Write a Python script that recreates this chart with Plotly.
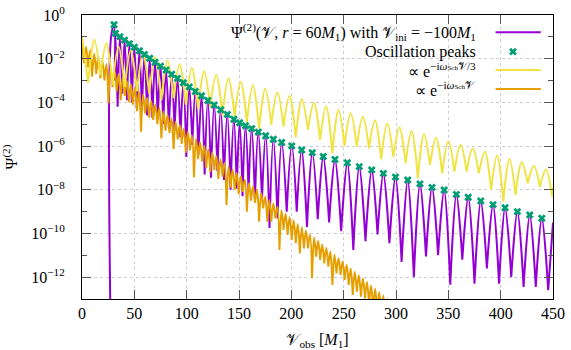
import plotly.graph_objects as go

# ---------------- data (x in M1, values as log10|Psi|) ----------------
# purple: Psi^(2)(V, r=60 M1) -- lobe tops (= oscillation peaks) and the dips between them
purple_rise_x = [27.2, 27.8]
purple_rise_log = [-14.0, -1.0]
purple_peak_x = [30.6, 31.9, 36.2, 40.7, 45.3, 50.0, 54.8, 59.7, 64.7, 69.8, 75.0, 80.3, 85.7,
                 91.2, 96.8, 102.5, 108.3, 114.2, 120.2, 126.3, 132.5, 138.8, 145.1, 150.6,
                 156.2, 162.1, 168.4, 175.5, 182.8, 190.8, 200.4, 209.9, 220.0, 230.5, 241.7,
                 253.5, 264.9, 276.8, 287.9, 299.5, 311.2, 322.9, 334.4, 346.0, 357.7, 369.0,
                 381.0, 392.7, 404.2, 416.0, 427.8, 439.3]
purple_peak_log = [-0.45, -0.84, -0.99, -1.15, -1.31, -1.47, -1.64, -1.81, -1.98, -2.16, -2.34,
                   -2.52, -2.71, -2.90, -3.10, -3.29, -3.50, -3.70, -3.91, -4.12, -4.34, -4.55,
                   -4.77, -4.93, -5.07, -5.20, -5.36, -5.53, -5.69, -5.84, -5.99, -6.18, -6.30,
                   -6.48, -6.61, -6.76, -6.94, -7.09, -7.25, -7.42, -7.55, -7.73, -7.89, -8.01,
                   -8.21, -8.34, -8.51, -8.68, -8.82, -9.00, -9.15, -9.30]
purple_dip_x = [31.25, 34.05, 38.45, 43.0, 47.65, 52.4, 57.25, 62.2, 67.25, 72.4, 77.65, 83.0,
                88.45, 94.0, 99.65, 105.4, 111.25, 117.2, 123.25, 129.4, 135.65, 141.95, 147.85,
                153.4, 159.15, 165.25, 171.95, 179.15, 186.8, 195.6, 205.15, 214.95, 225.25,
                236.1, 247.6, 259.2, 270.85, 282.35, 293.7, 305.35, 317.05, 328.65, 340.2,
                351.85, 363.35, 375.0, 386.85, 398.45, 410.1, 421.9, 433.55, 445.4]
purple_dip_log = [-3.0, -4.2, -3.6, -3.9, -4.0, -4.3, -4.4, -4.6, -4.7, -4.75, -5.0, -5.2, -5.3,
                  -5.6, -6.5, -5.95, -6.4, -7.3, -7.45, -7.15, -7.55, -8.0, -7.95, -8.3, -8.1,
                  -8.5, -8.45, -9.75, -9.3, -9.0, -9.0, -9.7, -9.35, -9.5, -9.9, -10.75, -10.35,
                  -10.05, -10.45, -11.3, -12.0, -11.05, -11.0, -12.35, -11.2, -12.3, -11.6,
                  -12.3, -12.0, -12.45, -12.45, -12.6]
purple_end_x = [450.0]
purple_end_log = [-9.5]

# yellow: ~ exp(-i w_Sch V / 3)
yellow_peak_x = [0.0, 11.67, 23.33, 35.0, 46.67, 58.33, 70.0, 81.67, 93.33, 105.0, 116.67,
                 128.33, 140.0, 151.67, 163.33, 175.0, 186.67, 198.33, 210.0, 221.67, 233.33,
                 245.0, 256.67, 268.33, 280.0, 291.67, 303.33, 315.0, 326.67, 338.33, 350.0,
                 361.67, 373.33, 385.0, 396.67, 408.33, 420.0, 431.67, 443.33]
yellow_peak_log = [-0.97, -1.13, -1.29, -1.45, -1.61, -1.77, -1.93, -2.09, -2.25, -2.41, -2.57,
                   -2.73, -2.90, -3.06, -3.22, -3.38, -3.54, -3.70, -3.86, -4.02, -4.18, -4.34,
                   -4.50, -4.66, -4.82, -4.98, -5.14, -5.30, -5.46, -5.62, -5.78, -5.94, -6.10,
                   -6.26, -6.42, -6.58, -6.74, -6.91, -7.07]
yellow_dip_x = [5.83, 17.5, 29.17, 40.83, 52.5, 64.17, 75.83, 87.5, 99.17, 110.83, 122.5,
                134.17, 145.83, 157.5, 169.17, 180.83, 192.5, 204.17, 215.83, 227.5, 239.17,
                250.83, 262.5, 274.17, 285.83, 297.5, 309.17, 320.83, 332.5, 344.17, 355.83,
                367.5, 379.17, 390.83, 402.5, 414.17, 425.83, 437.5, 449.17]
yellow_dip_log = [-3.1, -2.75, -3.2, -3.3, -3.5, -3.6, -3.9, -3.8, -4.1, -4.3, -4.2, -4.6,
                  -4.65, -4.9, -5.2, -5.03, -5.11, -5.6, -5.26, -5.72, -6.33, -6.0, -6.03, -6.1,
                  -6.6, -6.5, -6.79, -7.47, -6.86, -7.25, -7.17, -7.17, -7.25, -8.01, -8.54,
                  -8.24, -7.7, -7.86, -8.31]
yellow_end_x = [450.0]
yellow_end_log = [-7.9]

# orange: ~ exp(-i w_Sch V)
orange_peak_x = [0.0, 3.89, 7.78, 11.67, 15.56, 19.45, 23.34, 27.23, 31.12, 35.01, 38.9, 42.79,
                 46.68, 50.57, 54.46, 58.35, 62.24, 66.13, 70.02, 73.91, 77.8, 81.69, 85.58,
                 89.47, 93.36, 97.25, 101.14, 105.03, 108.92, 112.81, 116.7, 120.59, 124.48,
                 128.37, 132.26, 136.15, 140.04, 143.93, 147.82, 151.71, 155.6, 159.49, 163.38,
                 167.27, 171.16, 175.05, 178.94, 182.83, 186.72, 190.61, 194.5, 198.39, 202.28,
                 206.17, 210.06, 213.95, 217.84, 221.73, 225.62, 229.51, 233.4, 237.29, 241.18,
                 245.07, 248.96, 252.85, 256.74, 260.63, 264.52, 268.41, 272.3, 276.19, 280.08,
                 283.97, 287.86, 291.75, 295.64]
orange_peak_log = [-1.30, -1.46, -1.61, -1.77, -1.92, -2.08, -2.24, -2.39, -2.55, -2.70, -2.86,
                   -3.02, -3.17, -3.33, -3.48, -3.64, -3.80, -3.95, -4.11, -4.26, -4.42, -4.58,
                   -4.73, -4.89, -5.04, -5.20, -5.36, -5.51, -5.67, -5.82, -5.98, -6.14, -6.29,
                   -6.45, -6.60, -6.76, -6.92, -7.07, -7.23, -7.38, -7.54, -7.70, -7.85, -8.01,
                   -8.16, -8.32, -8.48, -8.63, -8.79, -8.94, -9.10, -9.26, -9.41, -9.57, -9.72,
                   -9.88, -10.04, -10.19, -10.35, -10.50, -10.66, -10.82, -10.97, -11.13, -11.28,
                   -11.44, -11.60, -11.75, -11.91, -12.06, -12.22, -12.38, -12.53, -12.69, -12.84,
                   -13.00, -13.16]
orange_dip_x = [1.95, 5.84, 9.73, 13.62, 17.51, 21.4, 25.29, 29.18, 33.07, 36.96, 40.85, 44.74,
                48.63, 52.52, 56.41, 60.3, 64.19, 68.08, 71.97, 75.86, 79.75, 83.64, 87.53,
                91.42, 95.31, 99.2, 103.09, 106.98, 110.87, 114.76, 118.65, 122.54, 126.43,
                130.32, 134.21, 138.1, 141.99, 145.88, 149.77, 153.66, 157.55, 161.44, 165.33,
                169.22, 173.11, 177.0, 180.89, 184.78, 188.67, 192.56, 196.45, 200.34, 204.23,
                208.12, 212.01, 215.9, 219.79, 223.68, 227.57, 231.46, 235.35, 239.24, 243.13,
                247.02, 250.91, 254.8, 258.69, 262.58, 266.47, 270.36, 274.25, 278.14, 282.03,
                285.92, 289.81, 293.7]
orange_dip_log = [-2.2, -2.4, -2.82, -2.7, -2.9, -3.0, -4.04, -3.3, -3.5, -3.9, -3.7, -4.0, -4.1,
                  -4.4, -5.34, -4.5, -4.7, -4.8, -5.0, -5.65, -5.3, -5.4, -6.14, -5.7, -5.9,
                  -6.3, -6.2, -7.43, -6.6, -6.7, -7.0, -7.2, -7.1, -7.5, -7.4, -8.7, -7.9, -8.0,
                  -8.2, -8.1, -9.0, -8.5, -8.6, -9.46, -8.85, -9.46, -9.46, -9.31, -10.76, -9.84,
                  -10.07, -10.3, -10.45, -10.91, -10.68, -10.68, -12.05, -11.06, -11.21, -11.37,
                  -11.52, -12.36, -11.83, -11.9, -12.13, -12.36, -12.81, -12.66, -12.89, -12.97,
                  -13.3, -13.5, -13.6, -13.8, -14.0, -14.0]

x_tick_vals = [0, 50, 100, 150, 200, 250, 300, 350, 400, 450]
y_tick_exps = [0, -2, -4, -6, -8, -10, -12]
y_minor_exps = [-1, -3, -5, -7, -9, -11]

labels = [
    "Ψ<sup>(2)</sup>(𝒱, <i>r</i> = 60<i>M</i><sub>1</sub>) with 𝒱<sub>ini</sub> = −100<i>M</i><sub>1</sub>",
    "Oscillation peaks",
    "∝ e<sup>−i<i>ω</i><span style='font-size:7px'>Sch</span>𝒱/3</sup>",
    "∝ e<sup>−i<i>ω</i><span style='font-size:7px'>Sch</span>𝒱</sup>",
]

PURPLE = "#9400D3"
GREEN = "#009E73"
YELLOW = "#F0E442"
ORANGE = "#E69F00"
FONT = "Liberation Serif"
FS = 16


def lobes(px, py, dx, dy):
    """Sequence peak, dip, dip, peak, ... (each dip given twice so the spline
    draws a cusp there and round arcs at the tops)."""
    xs, ys = [], []
    for i in range(len(px)):
        xs.append(px[i]); ys.append(py[i])
        if i < len(dx):
            xs += [dx[i], dx[i]]
            ys += [dy[i], dy[i]]
    return xs, ys


def to_val(logs):
    return [10 ** v for v in logs]


px_, py_ = lobes(purple_peak_x, purple_peak_log, purple_dip_x, purple_dip_log)
purple_x = purple_rise_x + px_ + purple_end_x
purple_y = to_val(purple_rise_log + py_ + purple_end_log)

yx_, yy_ = lobes(yellow_peak_x, yellow_peak_log, yellow_dip_x, yellow_dip_log)
yellow_x = yx_ + yellow_end_x
yellow_y = to_val(yy_ + yellow_end_log)

orange_x, oy_ = lobes(orange_peak_x, orange_peak_log, orange_dip_x, orange_dip_log)
orange_y = to_val(oy_)

line_style = dict(width=2, shape="spline", smoothing=1.0, simplify=False)

fig = go.Figure()
fig.add_trace(go.Scatter(x=purple_x, y=purple_y, mode="lines",
                         line=dict(color=PURPLE, **line_style), showlegend=False))
fig.add_trace(go.Scatter(x=orange_x, y=orange_y, mode="lines",
                         line=dict(color=ORANGE, **line_style), showlegend=False))
fig.add_trace(go.Scatter(x=yellow_x, y=yellow_y, mode="lines",
                         line=dict(color=YELLOW, **line_style), showlegend=False))
fig.add_trace(go.Scatter(x=purple_peak_x, y=to_val(purple_peak_log), mode="markers",
                         marker=dict(symbol="x", size=7, color=GREEN, line=dict(width=0)),
                         showlegend=False))

# legend key for the crosses (hidden overlay axis spanning [0,1])
fig.add_trace(go.Scatter(x=[0.915], y=[0.871], mode="markers", xaxis="x2", yaxis="y2",
                         marker=dict(symbol="x", size=7, color=GREEN, line=dict(width=0)),
                         showlegend=False, hoverinfo="skip"))

row_y = [0.939, 0.871, 0.806, 0.739]
for i, txt in enumerate(labels):
    fig.add_annotation(x=0.841, y=row_y[i] + (0.001 if i >= 2 else 0), xref="paper", yref="paper",
                       text=txt, showarrow=False, xanchor="right", yanchor="middle",
                       font=dict(family=FONT, size=FS, color="black"))
for i, col in [(0, PURPLE), (2, YELLOW), (3, ORANGE)]:
    fig.add_shape(type="line", xref="paper", yref="paper", x0=0.878, x1=0.974,
                  y0=row_y[i], y1=row_y[i], line=dict(color=col, width=2))

axis_common = dict(showline=True, linecolor="black", linewidth=1, mirror="allticks",
                   ticks="inside", tickcolor="#555555", ticklen=9, tickwidth=1,
                   showgrid=True, gridcolor="#cfcfcf", griddash="dot", gridwidth=1,
                   zeroline=False, automargin=False,
                   tickfont=dict(family=FONT, size=FS, color="black"))

fig.update_layout(
    width=571, height=350, autosize=False,
    margin=dict(l=82, r=18, t=15, b=51),
    plot_bgcolor="white", paper_bgcolor="white",
    font=dict(family=FONT, size=FS, color="black"),
    xaxis=dict(range=[0, 450], tickvals=x_tick_vals, ticklabelstandoff=0,
               title=dict(text="𝒱<sub>obs</sub> [<i>M</i><sub>1</sub>]", standoff=16,
                          font=dict(family=FONT, size=FS)),
               **axis_common),
    yaxis=dict(type="log", range=[-13, 0],
               tickvals=[10 ** e for e in y_tick_exps],
               ticktext=["10<sup>%s</sup>" % (str(e).replace("-", "−")) for e in y_tick_exps],
               ticklabelstandoff=13, ticklabeloverflow="allow",
               minor=dict(tickvals=[10 ** e for e in y_minor_exps], ticks="inside", ticklen=5,
                          tickcolor="#555555", showgrid=False),
               title=dict(text="Ψ<sup>(2)</sup>", standoff=15, font=dict(family=FONT, size=FS)),
               **axis_common),
    xaxis2=dict(overlaying="x", range=[0, 1], visible=False),
    yaxis2=dict(overlaying="y", range=[0, 1], visible=False),
)

# place the figure at the page's top-left corner (no default 8 px body margin), no modebar
fig.write_html("out.html", config={"displayModeBar": False},
               post_script="document.body.style.margin='0px';")
